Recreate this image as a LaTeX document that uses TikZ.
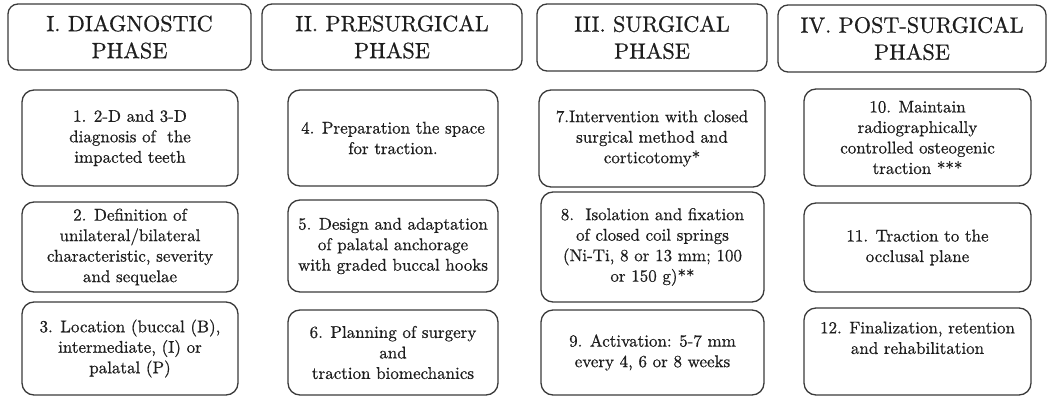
\documentclass[tikz,border=0pt]{standalone}
\usepackage{fontspec}
\newfontfamily\lmheavy{lmroman10-regular}[Extension=.otf, FakeBold=0.7]
\definecolor{linec}{HTML}{3A3A3A}
\definecolor{textc}{HTML}{1E1E1E}
\begin{document}
\begin{tikzpicture}[x=1pt,y=-1pt,
  phasebox/.style={draw=linec, line width=1.3pt, rounded corners=10pt, align=center, inner sep=0pt,
    text=textc, font=\lmheavy\fontsize{22.2}{27}\selectfont},
  stepbox/.style={draw=linec, line width=1.3pt, rounded corners=12pt, align=center, inner sep=0pt,
    text=textc, font=\lmheavy\fontsize{17}{20.5}\selectfont}]
\useasboundingbox (0,0) rectangle (1049,396);
% headers
\node[phasebox, minimum width=243pt, minimum height=66pt] (h1) at (129.5,37) {I. DIAGNOSTIC\\PHASE};
\node[phasebox, minimum width=260pt, minimum height=66pt] (h2) at (392,37) {II. PRESURGICAL\\PHASE};
\node[phasebox, minimum width=230pt, minimum height=67pt] (h3) at (652,37.5) {III. SURGICAL\\PHASE};
\node[phasebox, minimum width=268pt, minimum height=67pt] (h4) at (912,38.5) {IV. POST-SURGICAL\\PHASE};
% row 1
\node[stepbox, minimum width=216pt, minimum height=96pt] (s1) at (130,138) {1. 2-D and 3-D\\diagnosis of\ \ the\\impacted teeth};
\node[stepbox, minimum width=210pt, minimum height=96pt] (s4) at (393,138) {4. Preparation the space\\for traction.};
\node[stepbox, minimum width=226pt, minimum height=97pt] (s7) at (652,138.5) {7.Intervention with closed\\surgical method and\\corticotomy*};
\node[stepbox, minimum width=227pt, minimum height=97pt] (s10) at (917.5,137.5) {10. Maintain\\radiographically\\controlled osteogenic\\traction ***};
% row 2
\node[stepbox, minimum width=216pt, minimum height=90pt] (s2) at (130,247) {2. Definition of\\unilateral/bilateral\\characteristic, severity\\and sequelae};
\node[stepbox, minimum width=210pt, minimum height=92pt] (s5) at (393,246) {5. Design and adaptation\\of palatal anchorage\\with graded buccal hooks};
\node[stepbox, minimum width=223pt, minimum height=110pt] (s8) at (652.5,247) {8.\ \ Isolation and fixation\\of closed coil springs\\(Ni-Ti, 8 or 13 mm; 100\\or 150 g)**};
\node[stepbox, minimum width=227pt, minimum height=89pt] (s11) at (917.5,247.5) {11. Traction to the\\occlusal plane};
% row 3
\node[stepbox, minimum width=216pt, minimum height=93pt] (s3) at (130,348.5) {3. Location (buccal (B),\\intermediate, (I) or\\palatal (P)};
\node[stepbox, minimum width=210pt, minimum height=85pt] (s6) at (393,352.5) {6. Planning of surgery\\and\\traction biomechanics};
\node[stepbox, minimum width=223pt, minimum height=85pt] (s9) at (652.5,352.5) {9. Activation: 5-7 mm\\every 4, 6 or 8 weeks};
\node[stepbox, minimum width=227pt, minimum height=87pt, text depth=0pt] (s12) at (917.5,351.5) {12. Finalization, retention\\and rehabilitation\\[7pt]};
\end{tikzpicture}
\end{document}
